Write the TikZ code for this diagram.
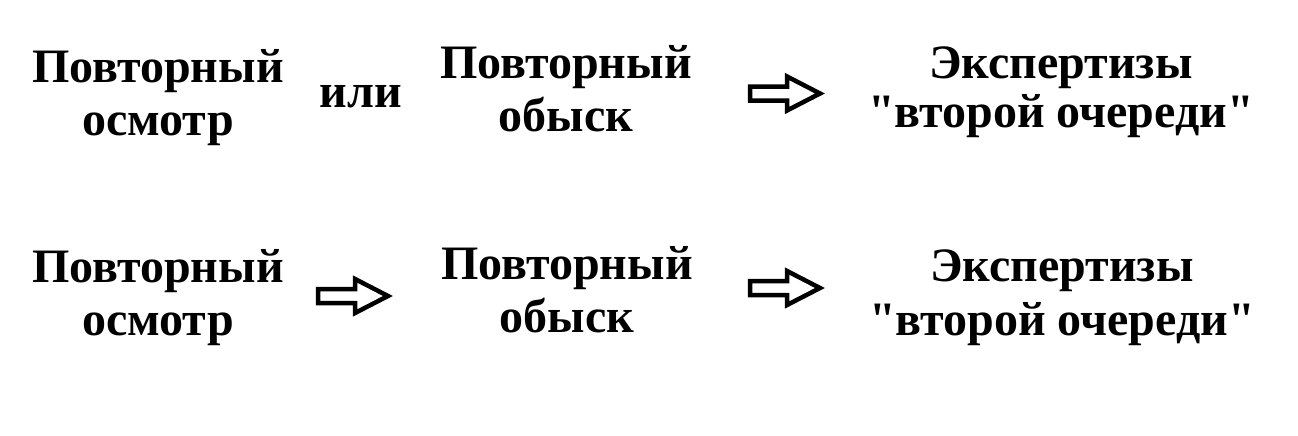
\documentclass[tikz,border=0pt]{standalone}
\usepackage{fontspec}
\setmainfont{Liberation Serif}[Ligatures=TeXOff]
\usetikzlibrary{positioning}

\tikzset{
  label/.style={font=\fontsize{48}{53}\selectfont\bfseries, align=center, inner sep=0, anchor=base},
  blockarrow/.style={draw=black, fill=white, line width=4.5pt, miter limit=10}
}

\begin{document}
\begin{tikzpicture}[x=1pt, y=-1pt]
\useasboundingbox (0,0) rectangle (1298,436);
% upper row
\node[label] (osmotrA)  at (158,135) {Повторный\\осмотр};
\node[label] (ili)      at (361,107) {или};
\node[label] (obyskA)   at (566,131) {Повторный\\обыск};
\node[label] (ekspA)    at (1061,127) {Экспертизы\\[-4pt]"второй очереди"};
% lower row
\node[label] (osmotrB)  at (158,335) {Повторный\\осмотр};
\node[label] (obyskB)   at (567,332) {Повторный\\обыск};
\node[label] (ekspB)    at (1062,335) {Экспертизы\\[1pt]"второй очереди"};
% block arrows
\foreach \ax/\ay in {750/93.5, 318/296, 750/288} {
 \draw[blockarrow] (\ax,\ay) ++(0,-7) -- ++(37,0) -- ++(0,-10) -- ++(33,17) -- ++(-33,17) -- ++(0,-10) -- ++(-37,0) -- cycle;
}
\end{tikzpicture}
\end{document}
